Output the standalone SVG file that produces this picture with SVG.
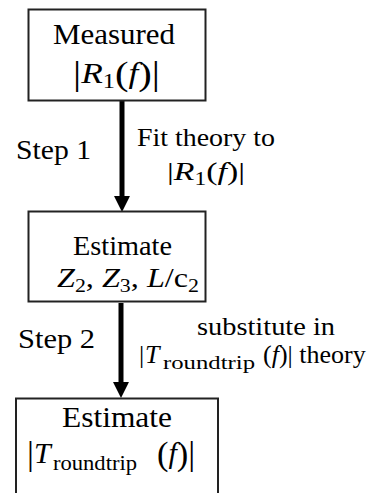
<svg xmlns="http://www.w3.org/2000/svg" width="392" height="493" viewBox="0 0 392 493">
<style>
.box{fill:#fff;stroke:#222;stroke-width:2}
.conn{stroke:#000;stroke-width:5;fill:none}
text{font-family:"Liberation Serif","Times New Roman",serif;fill:#000}
.i{font-style:italic}
.d{font-size:1.15em}
</style>
<defs>
<marker id="ah" markerUnits="userSpaceOnUse" markerWidth="16" markerHeight="16" viewBox="0 0 15 15" refX="1" refY="7.5" orient="auto">
<path d="M0,0 L15,7.5 L0,15 z" fill="#000"/>
</marker>
</defs>
<rect width="392" height="493" fill="#fff"/>
<g id="connectors">
<line class="conn" x1="122" y1="101" x2="122" y2="197" marker-end="url(#ah)"/>
<line class="conn" x1="121" y1="303" x2="121" y2="383" marker-end="url(#ah)"/>
</g>
<g id="measured">
<rect class="box" x="28.5" y="9.5" width="177" height="91"/>
<text x="53" y="44" font-size="29" textLength="122" lengthAdjust="spacingAndGlyphs">Measured</text>
<text x="73" y="83" font-size="29" textLength="87" lengthAdjust="spacingAndGlyphs"><tspan class="d" dy="2">|</tspan><tspan class="i" dy="-2">R</tspan><tspan font-size="20" dy="5">1</tspan><tspan class="d" dy="-3">(</tspan><tspan class="i" dy="-2">f</tspan><tspan class="d" dy="2">)|</tspan></text>
</g>
<g id="estimate1">
<rect class="box" x="28.5" y="211.5" width="177" height="90"/>
<text x="73" y="255" font-size="28" textLength="99" lengthAdjust="spacingAndGlyphs">Estimate</text>
<text x="57" y="287" font-size="28" textLength="142" lengthAdjust="spacingAndGlyphs"><tspan class="i">Z</tspan><tspan font-size="19" dy="5">2</tspan><tspan dy="-5">, </tspan><tspan class="i">Z</tspan><tspan font-size="19" dy="5">3</tspan><tspan dy="-5">, </tspan><tspan class="i">L</tspan>/c<tspan font-size="19" dy="5">2</tspan></text>
</g>
<g id="estimate2">
<rect class="box" x="16" y="398.5" width="202" height="110"/>
<text x="62" y="427" font-size="30" textLength="110" lengthAdjust="spacingAndGlyphs">Estimate</text>
<text y="463" font-size="30"><tspan class="d" x="27" dy="2">|</tspan><tspan class="i" x="34" dy="-2">T</tspan><tspan x="53" dy="7" font-size="21" textLength="84" lengthAdjust="spacingAndGlyphs">roundtrip</tspan><tspan class="d" x="157" dy="-5">(</tspan><tspan class="i" dy="-2">f</tspan><tspan class="d" dy="2">)|</tspan></text>
</g>
<g id="labels">
<text x="16" y="159" font-size="27" textLength="75" lengthAdjust="spacingAndGlyphs">Step 1</text>
<text x="137" y="146" font-size="26" textLength="138" lengthAdjust="spacingAndGlyphs">Fit theory to</text>
<text x="167" y="180" font-size="26" textLength="78" lengthAdjust="spacingAndGlyphs">|<tspan class="i">R</tspan><tspan font-size="18" dy="5">1</tspan><tspan dy="-5">(</tspan><tspan class="i">f</tspan>)|</text>
<text x="18" y="348" font-size="27" textLength="77" lengthAdjust="spacingAndGlyphs">Step 2</text>
<text x="197" y="335" font-size="26" textLength="138" lengthAdjust="spacingAndGlyphs">substitute in</text>
<text y="363" font-size="26"><tspan x="139">|</tspan><tspan class="i" x="145">T</tspan><tspan x="163" dy="6" font-size="19" textLength="92" lengthAdjust="spacingAndGlyphs">roundtrip</tspan><tspan x="263" dy="-6">(</tspan><tspan class="i">f</tspan>)| theory</text>
</g>
</svg>
